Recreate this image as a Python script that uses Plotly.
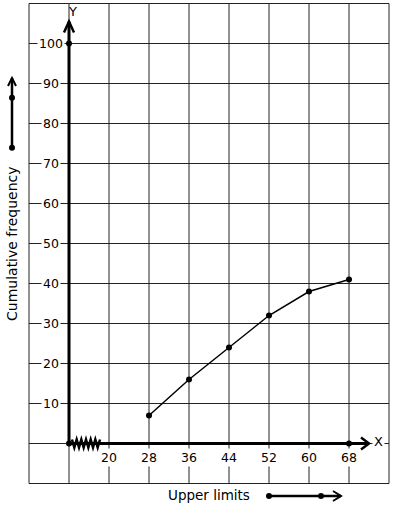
import plotly.graph_objects as go

# ---- data ----
upper_limits = [28, 36, 44, 52, 60, 68]
cum_freq = [7, 16, 24, 32, 38, 41]
x_tick_vals = [20, 28, 36, 44, 52, 60, 68]
y_tick_vals = [10, 20, 30, 40, 50, 60, 70, 80, 90, 100]

W, H = 394, 510
# axis ranges (5 px per x unit, 4 px per y unit)
XR = [-1.8, 77.0]
YR = [-16.625, 110.875]

def px_x(p):
    return XR[0] + p * (XR[1] - XR[0]) / W

def px_y(p):
    return YR[1] - p * (YR[1] - YR[0]) / H

FONT = dict(family="DejaVu Sans", size=13, color="black")
NUMFONT = dict(family="DejaVu Sans", size=12.5, color="black")
dx_per_px = (XR[1] - XR[0]) / W
dy_per_px = (YR[1] - YR[0]) / H

shapes = []
# grid
GX0, GX1, GY0, GY1 = 4, 76, -10, 110
for gx in range(GX0, GX1 + 1, 8):
    shapes.append(dict(type="line", x0=gx, x1=gx, y0=GY0, y1=GY1, layer="below",
                       line=dict(color="#222222", width=1)))
for gy in range(GY0, GY1 + 1, 10):
    shapes.append(dict(type="line", x0=GX0, x1=GX1, y0=gy, y1=gy, layer="below",
                       line=dict(color="#222222", width=1)))

AX = dict(color="black", width=3)
# Y axis with arrow
y_tip = px_y(21.5)
shapes.append(dict(type="line", x0=12, x1=12, y0=0, y1=y_tip, line=AX))
shapes.append(dict(type="path",
                   path=f"M {12-5*dx_per_px} {y_tip-11*dy_per_px} L 12 {y_tip} L {12+5*dx_per_px} {y_tip-11*dy_per_px}",
                   line=dict(color="black", width=2.5)))
# X axis with arrow
x_tip = px_x(369)
shapes.append(dict(type="line", x0=12, x1=x_tip, y0=0, y1=0, line=AX))
shapes.append(dict(type="path",
                   path=f"M {x_tip-8*dx_per_px} {6*dy_per_px} L {x_tip} 0 L {x_tip-8*dx_per_px} {-6*dy_per_px}",
                   line=dict(color="black", width=2.5)))
# zigzag break on x axis
pts = []
n = 12
for i in range(n + 1):
    xp = 72 + i * (100 - 72) / n
    yp = 443.5 + (4 if i % 2 else -4)
    pts.append((px_x(xp), px_y(yp)))
path = "M " + " L ".join(f"{a} {b}" for a, b in pts)
shapes.append(dict(type="path", path=path, line=dict(color="black", width=2.5)))

# left arrow near y title
lx = px_x(12)
ly0, ly1 = px_y(147.7), px_y(78)
shapes.append(dict(type="line", x0=lx, x1=lx, y0=ly0, y1=ly1, line=dict(color="black", width=2.5)))
shapes.append(dict(type="path",
                   path=f"M {lx-4*dx_per_px} {ly1-8*dy_per_px} L {lx} {ly1} L {lx+4*dx_per_px} {ly1-8*dy_per_px}",
                   line=dict(color="black", width=2)))
# bottom arrow near x title
by = px_y(496)
bx0, bx1 = px_x(269), px_x(341)
shapes.append(dict(type="line", x0=bx0, x1=bx1, y0=by, y1=by, line=dict(color="black", width=2.5)))
shapes.append(dict(type="path",
                   path=f"M {bx1-8*dx_per_px} {by+5*dy_per_px} L {bx1} {by} L {bx1-8*dx_per_px} {by-5*dy_per_px}",
                   line=dict(color="black", width=2)))

fig = go.Figure()
fig.add_trace(go.Scatter(x=upper_limits, y=cum_freq, mode="lines+markers",
                         line=dict(color="black", width=1.5),
                         marker=dict(color="black", size=6), showlegend=False,
                         cliponaxis=False))
# decorative dots
fig.add_trace(go.Scatter(x=[12, 12, 68, lx, lx, bx0, px_x(321)],
                         y=[0, 100, 0, ly0, px_y(97.7), by, by],
                         mode="markers", marker=dict(color="black", size=6),
                         showlegend=False, cliponaxis=False))

annotations = []
for v in y_tick_vals:
    annotations.append(dict(x=px_x(50.8), y=v, text=str(v), showarrow=False, font=NUMFONT,
                            bgcolor="white", borderpad=1, xanchor="center", yanchor="middle"))
for v in x_tick_vals:
    annotations.append(dict(x=v, y=px_y(457), text=str(v), showarrow=False, font=NUMFONT,
                            bgcolor="white", borderpad=1, xanchor="center", yanchor="middle"))
annotations.append(dict(x=px_x(12), y=px_y(244), text="Cumulative frequency", textangle=-90,
                        showarrow=False, font=dict(FONT, size=14), xanchor="center", yanchor="middle"))
annotations.append(dict(x=px_x(209), y=px_y(495), text="Upper limits",
                        showarrow=False, font=dict(FONT, size=13.5), xanchor="center", yanchor="middle"))
annotations.append(dict(x=px_x(72), y=px_y(11), text="Y",
                        showarrow=False, font=FONT, xanchor="center", yanchor="middle"))
annotations.append(dict(x=px_x(378.5), y=px_y(441), text="X", bgcolor="white", borderpad=1,
                        showarrow=False, font=FONT, xanchor="center", yanchor="middle"))

fig.update_layout(
    width=W, height=H,
    margin=dict(l=0, r=0, t=0, b=0),
    paper_bgcolor="white", plot_bgcolor="white",
    xaxis=dict(range=XR, visible=False, fixedrange=True),
    yaxis=dict(range=YR, visible=False, fixedrange=True),
    shapes=shapes, annotations=annotations,
    font=FONT,
)
fig.write_html("out.html", config={"displayModeBar": False},
               post_script="document.body.style.margin='0';document.body.style.overflow='hidden';")
